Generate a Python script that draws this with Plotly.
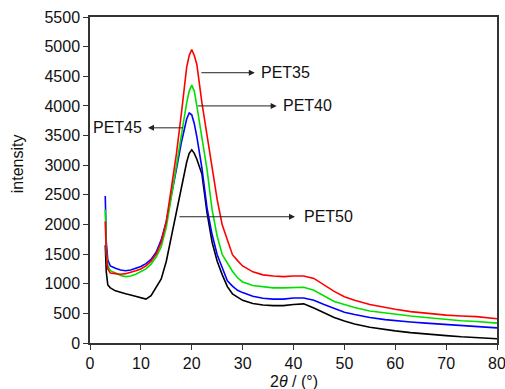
import plotly.graph_objects as go

two_theta = [3, 3.2, 3.5, 4, 5, 6, 7, 8, 9, 10, 11, 12, 13, 14, 15, 16, 17, 18, 19, 19.5,
             20, 20.5, 21, 22, 23, 24, 25, 26, 27, 28, 29, 30, 32, 34, 36, 38, 40, 42, 44,
             46, 48, 50, 52, 55, 58, 60, 63, 66, 70, 73, 76, 80]

pet35 = [2050, 1500, 1250, 1180, 1170, 1160, 1170, 1190, 1220, 1250, 1300, 1380, 1500, 1700,
         2050, 2620, 3200, 3900, 4650, 4850, 4950, 4850, 4700, 4050, 3480, 2930, 2420, 1990,
         1720, 1490, 1390, 1300, 1200, 1150, 1130, 1120, 1130, 1130, 1090, 980, 870, 780, 720,
         650, 600, 570, 530, 500, 470, 455, 445, 410]

pet40 = [2250, 1550, 1300, 1220, 1180, 1140, 1120, 1130, 1160, 1200, 1250, 1330, 1450, 1625,
         1950, 2470, 2970, 3530, 4050, 4250, 4350, 4250, 4000, 3500, 2930, 2250, 1800, 1490,
         1340, 1210, 1100, 1030, 970, 945, 930, 930, 940, 940, 890, 790, 700, 650, 600, 540,
         505, 480, 455, 430, 395, 375, 362, 335]

pet45 = [2480, 1700, 1400, 1300, 1260, 1230, 1220, 1230, 1260, 1290, 1340, 1410, 1530, 1740,
         2050, 2470, 2940, 3400, 3780, 3880, 3850, 3700, 3480, 2950, 2280, 1830, 1490, 1270,
         1050, 960, 890, 850, 790, 755, 740, 740, 760, 760, 720, 650, 580, 520, 480, 430, 395,
         375, 355, 335, 315, 300, 285, 255]

pet50 = [1650, 1200, 980, 930, 880, 850, 830, 810, 790, 760, 740, 800, 930, 1080, 1380, 1800,
         2200, 2650, 3050, 3200, 3260, 3200, 3100, 2850, 2200, 1700, 1380, 1150, 950, 830, 770,
         720, 665, 640, 630, 630, 650, 660, 590, 510, 430, 370, 320, 265, 225, 205, 175, 150,
         125, 105, 90, 72]

x_ticks = [0, 10, 20, 30, 40, 50, 60, 70, 80]
y_ticks = [0, 500, 1000, 1500, 2000, 2500, 3000, 3500, 4000, 4500, 5000, 5500]

series = [
    ("PET50", pet50, "#000000"),
    ("PET45", pet45, "#0000FF"),
    ("PET40", pet40, "#00E000"),
    ("PET35", pet35, "#FF0000"),
]

fig = go.Figure()
for name, ys, col in series:
    fig.add_trace(go.Scatter(x=two_theta, y=ys, mode="lines", name=name,
                             line=dict(color=col, width=1.6)))

font = "Liberation Sans, Arial, sans-serif"

# labels with arrows: (text, tail_x, tail_y, head_x, text_x, text_anchor)
labels = [
    ("PET35", 21.6, 4560, 32.4, 33.3, "left"),
    ("PET40", 20.9, 4000, 36.7, 37.5, "left"),
    ("PET45", 18.6, 3630, 11.4, 10.6, "right"),
    ("PET50", 17.3, 2130, 40.3, 41.7, "left"),
]
for text, tx, ty, hx, lx, anchor in labels:
    fig.add_annotation(x=hx, y=ty, ax=tx, ay=ty, xref="x", yref="y", axref="x", ayref="y",
                       showarrow=True, arrowhead=2, arrowsize=1.2, arrowwidth=1,
                       arrowcolor="#222222", text="")
    fig.add_annotation(x=lx, y=ty, xref="x", yref="y", text=text, showarrow=False,
                       xanchor=anchor, yanchor="middle",
                       font=dict(family=font, size=16, color="#111111"))

# axis titles placed as paper annotations
fig.add_annotation(x=-0.178, y=0.55, xref="paper", yref="paper", text="intensity",
                   textangle=-90, showarrow=False, xanchor="center", yanchor="middle",
                   font=dict(family=font, size=16, color="#111111"))
fig.add_annotation(x=0.5, y=-0.117, xref="paper", yref="paper", text="2<i>θ</i> / (°)",
                   showarrow=False, xanchor="center", yanchor="middle",
                   font=dict(family=font, size=16, color="#111111"))

fig.update_layout(
    width=505, height=389,
    margin=dict(l=90, r=8, t=17, b=46, autoexpand=False),
    paper_bgcolor="white", plot_bgcolor="white",
    showlegend=False,
    font=dict(family=font, size=16, color="#111111"),
)
fig.update_xaxes(range=[0, 80], tickvals=x_ticks, ticks="outside", ticklen=5, tickwidth=1,
                 tickcolor="#333333", showline=True, linecolor="#333333", linewidth=1.5,
                 mirror=True, showgrid=False, zeroline=False, automargin=False,
                 ticklabeloverflow="allow")
fig.update_yaxes(range=[0, 5500], tickvals=y_ticks, ticks="outside", ticklen=5, tickwidth=1,
                 tickcolor="#333333", showline=True, linecolor="#333333", linewidth=1.5,
                 mirror=True, showgrid=False, zeroline=False, automargin=False,
                 ticklabeloverflow="allow")

fig.write_html("out.html", config={"displayModeBar": False},
               post_script="document.body.style.margin='0';document.body.style.overflow='hidden';")
